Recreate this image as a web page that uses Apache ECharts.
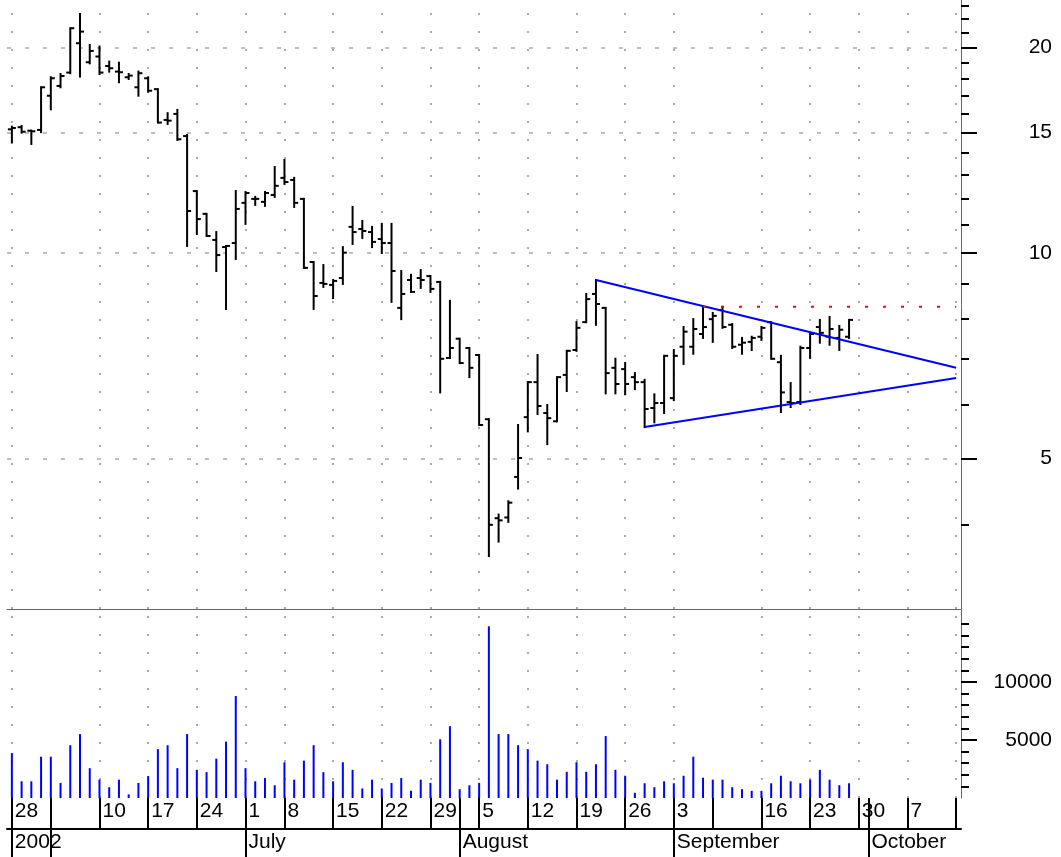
<!DOCTYPE html>
<html>
<head>
<meta charset="utf-8">
<script src="https://cdn.jsdelivr.net/npm/echarts@6.0.0/dist/echarts.min.js"></script>
<style>
  html, body { margin: 0; padding: 0; background: #fff; }
  #chart { width: 1061px; height: 857px; }
</style>
</head>
<body>
<div id="chart"></div>
<script>
// trading days, May 28 - Oct 14 2002
const dates = [
  '2002-05-28', '2002-05-29', '2002-05-30', '2002-05-31',
  '2002-06-03', '2002-06-04', '2002-06-05', '2002-06-06', '2002-06-07',
  '2002-06-10', '2002-06-11', '2002-06-12', '2002-06-13', '2002-06-14',
  '2002-06-17', '2002-06-18', '2002-06-19', '2002-06-20', '2002-06-21',
  '2002-06-24', '2002-06-25', '2002-06-26', '2002-06-27', '2002-06-28',
  '2002-07-01', '2002-07-02', '2002-07-03', '2002-07-05',
  '2002-07-08', '2002-07-09', '2002-07-10', '2002-07-11', '2002-07-12',
  '2002-07-15', '2002-07-16', '2002-07-17', '2002-07-18', '2002-07-19',
  '2002-07-22', '2002-07-23', '2002-07-24', '2002-07-25', '2002-07-26',
  '2002-07-29', '2002-07-30', '2002-07-31', '2002-08-01', '2002-08-02',
  '2002-08-05', '2002-08-06', '2002-08-07', '2002-08-08', '2002-08-09',
  '2002-08-12', '2002-08-13', '2002-08-14', '2002-08-15', '2002-08-16',
  '2002-08-19', '2002-08-20', '2002-08-21', '2002-08-22', '2002-08-23',
  '2002-08-26', '2002-08-27', '2002-08-28', '2002-08-29', '2002-08-30',
  '2002-09-03', '2002-09-04', '2002-09-05', '2002-09-06',
  '2002-09-09', '2002-09-10', '2002-09-11', '2002-09-12', '2002-09-13',
  '2002-09-16', '2002-09-17', '2002-09-18', '2002-09-19', '2002-09-20',
  '2002-09-23', '2002-09-24', '2002-09-25', '2002-09-26', '2002-09-27',
  '2002-09-30', '2002-10-01', '2002-10-02', '2002-10-03', '2002-10-04',
  '2002-10-07', '2002-10-08', '2002-10-09', '2002-10-10', '2002-10-11',
  '2002-10-14'
];

const opens = [
  15.17, 15.28, 15.10, 15.14, 16.99, 17.56, 18.37, 20.28, 19.02, 19.39,
  18.78, 18.43, 18.08, 17.48, 18.02, 17.37, 15.66, 15.98, 14.83, 12.32,
  11.41, 10.45, 10.20, 10.34, 11.84, 12.00, 11.88, 12.16, 12.88, 12.79,
  12.00, 9.70, 9.04, 8.98, 9.19, 10.92, 10.84, 10.73, 10.48, 10.34,
  8.31, 9.13, 9.19, 9.25, 9.07, 7.02, 7.49, 7.26, 7.09, 5.71,
  4.09, 4.10, 4.70, 5.75, 6.47, 5.83, 5.67, 6.63, 7.21, 7.92,
  8.71, 8.31, 6.79, 6.76, 6.58, 6.47, 5.93, 6.03, 6.13, 7.29,
  7.29, 7.61, 8.00, 8.25, 7.85, 7.34, 7.41, 7.54, 7.92, 6.92,
  6.05, 6.05, 7.26, 7.79, 7.54, 7.51, 7.54
];
const highs = [
  15.31, 15.34, 15.10, 17.48, 18.08, 18.28, 21.33, 22.38, 20.16, 20.05,
  19.06, 18.99, 18.28, 18.43, 18.08, 17.37, 16.02, 16.20, 14.88, 12.32,
  11.41, 10.73, 10.24, 12.32, 12.28, 12.08, 12.28, 13.36, 13.68, 12.88,
  12.00, 9.70, 9.60, 9.13, 10.20, 11.68, 11.14, 10.92, 11.03, 11.03,
  9.41, 9.29, 9.44, 9.25, 9.07, 8.51, 7.49, 7.26, 7.09, 5.71,
  4.14, 4.33, 5.60, 6.47, 7.09, 5.99, 6.58, 7.19, 7.92, 8.71,
  9.13, 8.31, 7.00, 6.90, 6.67, 6.52, 6.21, 7.07, 7.21, 7.79,
  8.00, 8.34, 8.17, 8.34, 7.87, 7.51, 7.54, 7.79, 7.92, 7.07,
  6.45, 7.29, 7.64, 7.98, 8.06, 7.82, 7.98
];
const lows = [
  14.51, 15.00, 14.44, 15.03, 16.23, 17.48, 18.33, 18.12, 18.95, 18.28,
  18.43, 17.78, 17.98, 16.99, 17.22, 15.52, 15.45, 14.64, 10.24, 10.66,
  10.59, 9.41, 8.28, 9.80, 11.03, 11.76, 11.72, 12.08, 12.62, 11.68,
  9.51, 8.28, 8.92, 8.59, 9.01, 10.31, 10.52, 10.20, 10.00, 8.48,
  8.00, 8.77, 8.89, 8.77, 6.25, 7.02, 6.90, 6.58, 5.60, 3.60,
  3.78, 4.04, 4.52, 5.48, 5.81, 5.25, 5.67, 6.28, 7.19, 7.92,
  7.85, 6.23, 6.23, 6.21, 6.32, 5.56, 5.65, 5.83, 6.09, 6.88,
  7.12, 7.51, 7.41, 7.77, 7.26, 7.12, 7.21, 7.46, 7.00, 5.85,
  5.95, 6.01, 7.02, 7.39, 7.34, 7.21, 7.51
];
const closes = [
  15.24, 15.05, 15.07, 17.48, 18.02, 18.16, 21.33, 21.09, 19.76, 18.37,
  18.64, 18.39, 18.18, 18.33, 17.28, 15.52, 15.62, 14.67, 11.52, 11.21,
  10.59, 9.93, 10.24, 11.60, 12.24, 12.00, 12.24, 12.54, 12.70, 11.84,
  9.51, 8.65, 9.01, 9.10, 10.01, 10.73, 10.77, 10.38, 10.34, 9.41,
  8.71, 8.77, 9.13, 8.86, 7.00, 7.26, 6.90, 6.79, 5.60, 4.00,
  4.06, 4.31, 5.01, 6.47, 5.97, 5.73, 6.58, 7.19, 7.77, 8.56,
  8.42, 6.67, 6.43, 6.43, 6.47, 5.91, 6.03, 7.07, 7.07, 7.67,
  7.74, 7.79, 8.09, 7.79, 7.29, 7.39, 7.51, 7.77, 7.00, 6.25,
  6.03, 7.26, 7.61, 7.64, 7.74, 7.72, 7.98
];
const volumes = [
  3870, 1440, 1440, 3560, 3560, 1300, 4550, 5510, 2570, 1580,
  930, 1580, 310, 1300, 1890, 4210, 4550, 2570, 5510, 2430,
  2230, 3390, 4860, 8790, 2570, 1440, 1720, 1100, 3080, 1580,
  3220, 4550, 2230, 1440, 3080, 2430, 820, 1580, 820, 1300,
  1720, 620, 1580, 1300, 5060, 6190, 760, 1100, 1300, 14800,
  5510, 5510, 4550, 4210, 3220, 2910, 1580, 2260, 3080, 2260,
  2910, 5340, 2430, 1920, 450, 1270, 930, 1440, 1270, 1920,
  3560, 1750, 1580, 1580, 930, 760, 620, 620, 1270, 1920,
  1440, 1270, 1580, 2430, 1580, 1100, 1270
];

// drawn lines: [category index, price]
const upperTrend = [[60, 9.13], [97, 6.79]];
const lowerTrend = [[65, 5.56], [97, 6.56]];
const resistance = [[71, 8.34], [97, 8.34]];

// axis ticks
const weekStarts = [0, 4, 9, 14, 19, 24, 28, 33, 38, 43, 48, 53, 58, 63, 68, 72, 77, 82, 87, 92, 97];
const unlabeledWeeks = [4, 72, 97];
const monthStarts = [0, 4, 24, 46, 68, 88];
const monthNames = { 0: '2002', 24: 'July', 46: 'August', 68: 'September', 88: 'October' };
const priceMajor = [5, 10, 15, 20];
const priceMinor = [4, 6, 7, 8, 9, 11, 12, 13, 14, 16, 17, 18, 19, 21, 22, 23];
const volMajor = [5000, 10000];
const volMinor = [1000, 2000, 3000, 4000, 6000, 7000, 8000, 9000, 11000, 12000, 13000, 14000, 15000];

const PRICE_MIN = 3.0116;
const PRICE_MAX = 23.46;
const VOL_MAX = 16207;

const font = "'Liberation Sans', Arial, sans-serif";
const tickStyle = { color: '#000', width: 2 };
const dotStyle = { color: '#aaa', width: 2, type: [2, 16] };
const dashStyle = { color: '#aaa', width: 1.5, type: [4, 14] };

const weekTickSet = new Set(weekStarts.concat(monthStarts));
const weekLabelSet = new Set(weekStarts.filter((i) => !unlabeledWeeks.includes(i)));
const gridWeeks = weekStarts.filter((i) => i !== 4 && i !== 72);
const monthSet = new Set(monthStarts);

const ohlcData = opens.map((o, i) => [i, o, highs[i], lows[i], closes[i]]);

function renderOhlc(params, api) {
  const i = api.value(0);
  const hi = api.coord([i, api.value(2)]);
  const lo = api.coord([i, api.value(3)]);
  const op = api.coord([i, api.value(1)]);
  const cl = api.coord([i, api.value(4)]);
  const style = { stroke: '#000', lineWidth: 2, fill: null };
  return {
    type: 'group',
    children: [
      { type: 'line', shape: { x1: hi[0], y1: hi[1] - 1, x2: lo[0], y2: lo[1] + 1 }, style },
      { type: 'line', shape: { x1: op[0] - 4, y1: op[1], x2: op[0], y2: op[1] }, style },
      { type: 'line', shape: { x1: cl[0], y1: cl[1], x2: cl[0] + 4, y2: cl[1] }, style },
    ],
  };
}

const chart = echarts.init(document.getElementById('chart'));

const catBase = { type: 'category', data: dates, boundaryGap: true };
const labelFont = { fontSize: 21, fontFamily: font, color: '#000' };

chart.setOption({
  animation: false,
  backgroundColor: '#fff',
  grid: [
    { left: 7, top: 0, width: 954, height: 609, outerBoundsMode: 'none' },
    { left: 7, top: 610, width: 954, height: 188, outerBoundsMode: 'none' },
    // month row sits under the volume panel
    { left: 7, top: 610, width: 954, height: 188, outerBoundsMode: 'none' },
  ],
  xAxis: [
    {
      ...catBase,
      gridIndex: 0,
      axisLine: { show: true, onZero: false, lineStyle: { color: '#666', width: 1 } },
      axisTick: { show: false },
      axisLabel: { show: false },
      splitLine: { show: false },
    },
    {
      ...catBase,
      gridIndex: 1,
      position: 'bottom',
      axisLine: { show: false, onZero: false },
      axisTick: {
        show: true,
        alignWithLabel: true,
        length: 31,
        interval: (i) => weekTickSet.has(i),
        lineStyle: tickStyle,
      },
      axisLabel: {
        interval: (i) => weekLabelSet.has(i),
        formatter: (v) => String(Number(v.slice(8))),
        align: 'left',
        padding: [0, 0, 0, 3],
        margin: 3,
        ...labelFont,
      },
      splitLine: { show: false },
    },
    {
      ...catBase,
      gridIndex: 2,
      position: 'bottom',
      offset: 31,
      axisLine: { show: true, onZero: false, lineStyle: { color: '#000', width: 2 } },
      axisTick: {
        show: true,
        alignWithLabel: true,
        length: 28,
        interval: (i) => monthSet.has(i),
        lineStyle: tickStyle,
      },
      axisLabel: {
        interval: (i) => monthNames[i] !== undefined,
        formatter: (v, i) => monthNames[i] || '',
        align: 'left',
        padding: [0, 0, 0, 3],
        margin: 3,
        ...labelFont,
      },
      splitLine: { show: false },
    },
  ],
  yAxis: [
    {
      type: 'log',
      logBase: 10,
      gridIndex: 0,
      position: 'right',
      min: PRICE_MIN,
      max: PRICE_MAX,
      axisLine: { show: true, lineStyle: { color: '#666', width: 1 } },
      axisTick: { show: true, length: 8, customValues: priceMinor, lineStyle: tickStyle },
      axisLabel: { show: false },
      splitLine: { show: false },
      minorTick: { show: false },
    },
    {
      type: 'log',
      logBase: 10,
      gridIndex: 0,
      position: 'right',
      min: PRICE_MIN,
      max: PRICE_MAX,
      axisLine: { show: false },
      axisTick: { show: true, length: 16, customValues: priceMajor, lineStyle: tickStyle },
      axisLabel: { customValues: priceMajor, align: 'right', margin: 91, ...labelFont },
      splitLine: { show: false },
    },
    {
      type: 'value',
      gridIndex: 1,
      position: 'right',
      min: 0,
      max: VOL_MAX,
      axisLine: { show: true, lineStyle: { color: '#666', width: 1 } },
      axisTick: { show: true, length: 8, customValues: volMinor, lineStyle: tickStyle },
      axisLabel: { show: false },
      splitLine: { show: false },
    },
    {
      type: 'value',
      gridIndex: 1,
      position: 'right',
      min: 0,
      max: VOL_MAX,
      axisLine: { show: false },
      axisTick: { show: true, length: 16, customValues: volMajor, lineStyle: tickStyle },
      axisLabel: {
        customValues: volMajor,
        formatter: (v) => String(v),
        align: 'right',
        margin: 91,
        ...labelFont,
      },
      splitLine: { show: false },
    },
    {
      type: 'value',
      gridIndex: 2,
      show: false,
    },
  ],
  series: [
    {
      type: 'custom',
      name: 'price',
      xAxisIndex: 0,
      yAxisIndex: 0,
      renderItem: renderOhlc,
      data: ohlcData,
      encode: { x: 0, y: [1, 2, 3, 4] },
      z: 3,
    },
    {
      type: 'line',
      name: 'upper',
      xAxisIndex: 0,
      yAxisIndex: 0,
      data: upperTrend,
      symbol: 'none',
      lineStyle: { color: '#0000ff', width: 2 },
      z: 4,
      markLine: {
        silent: true,
        symbol: ['none', 'none'],
        label: { show: false },
        z: 1,
        data: [
          ...priceMajor.map((v) => ({ yAxis: v, lineStyle: dashStyle })),
          ...gridWeeks.map((i) => ({ xAxis: dates[i], lineStyle: dotStyle })),
        ],
      },
    },
    {
      type: 'line',
      name: 'lower',
      xAxisIndex: 0,
      yAxisIndex: 0,
      data: lowerTrend,
      symbol: 'none',
      lineStyle: { color: '#0000ff', width: 2 },
      z: 4,
    },
    {
      type: 'line',
      name: 'resistance',
      xAxisIndex: 0,
      yAxisIndex: 0,
      data: resistance,
      symbol: 'none',
      lineStyle: { color: '#ff0000', width: 2, type: [3, 15] },
      z: 4,
    },
    {
      type: 'bar',
      name: 'volume',
      xAxisIndex: 1,
      yAxisIndex: 2,
      data: volumes,
      barWidth: 2,
      itemStyle: { color: '#0000ff' },
      z: 3,
      markLine: {
        silent: true,
        symbol: ['none', 'none'],
        label: { show: false },
        z: 1,
        data: gridWeeks.map((i) => ({ xAxis: dates[i], lineStyle: dotStyle })),
      },
    },
  ],
});
</script>
</body>
</html>
